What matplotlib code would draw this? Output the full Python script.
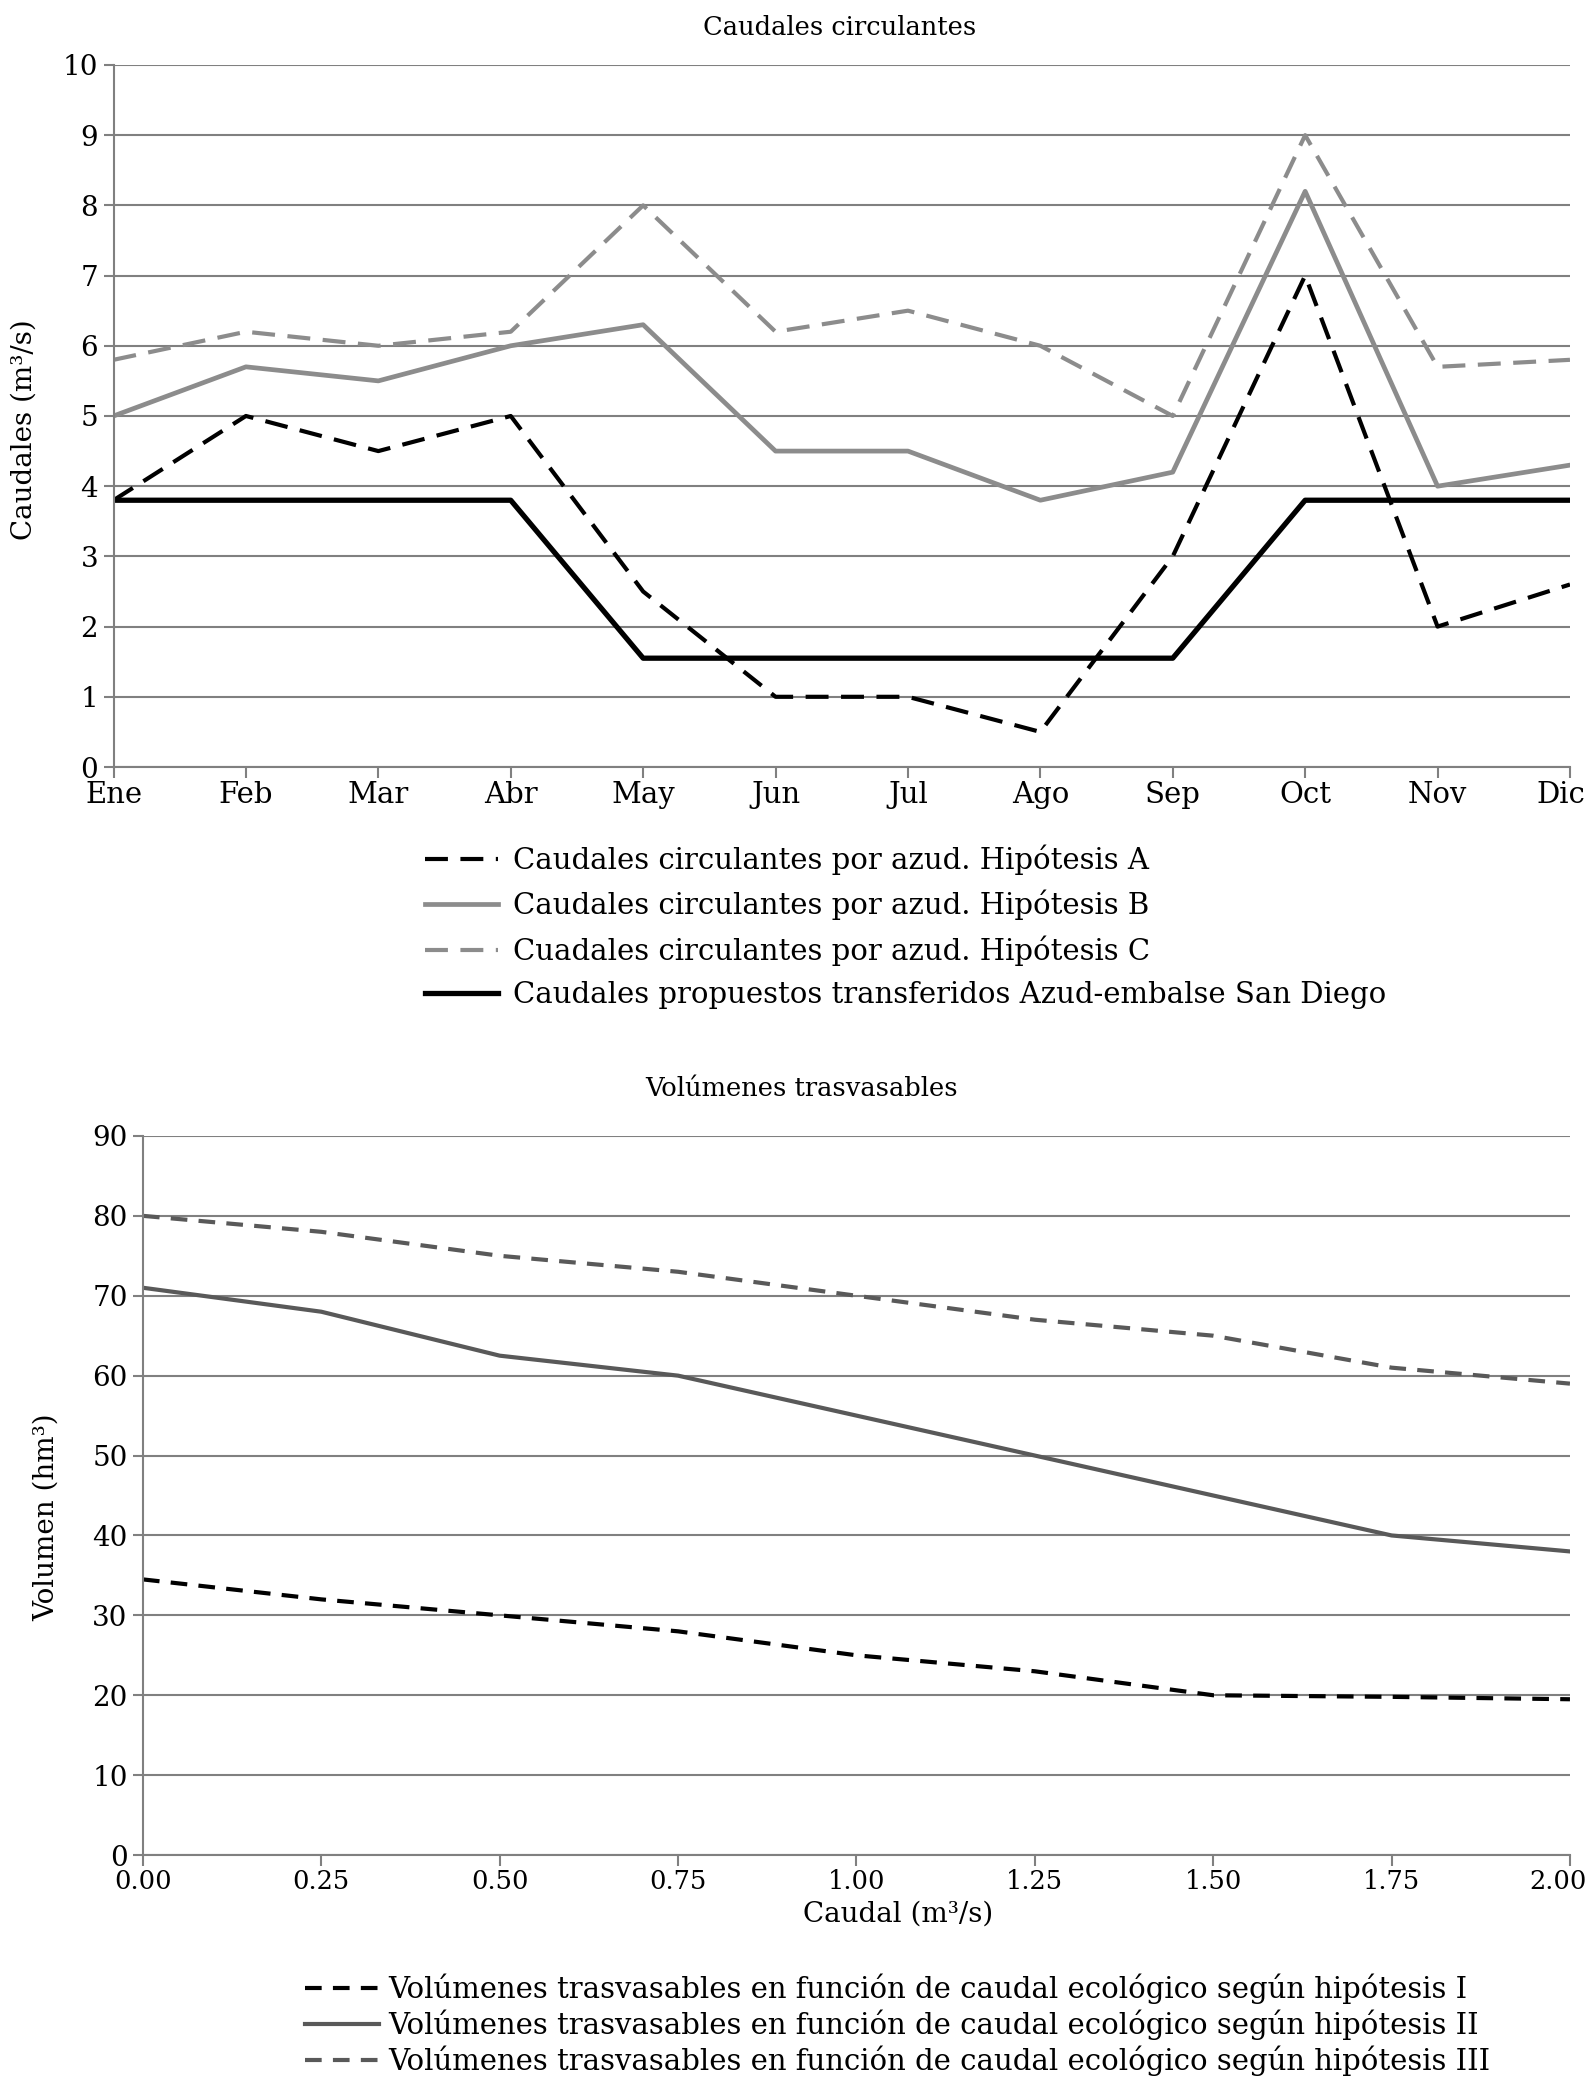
import matplotlib.pyplot as plt
from matplotlib.transforms import ScaledTranslation

plt.rcParams['font.family'] = 'DejaVu Serif'

meses = ['Ene', 'Feb', 'Mar', 'Abr', 'May', 'Jun', 'Jul', 'Ago', 'Sep', 'Oct', 'Nov', 'Dic']
hip_a = [3.8, 5.0, 4.5, 5.0, 2.5, 1.0, 1.0, 0.5, 3.0, 7.0, 2.0, 2.6]
hip_b = [5.0, 5.7, 5.5, 6.0, 6.3, 4.5, 4.5, 3.8, 4.2, 8.2, 4.0, 4.3]
hip_c = [5.8, 6.2, 6.0, 6.2, 8.0, 6.2, 6.5, 6.0, 5.0, 9.0, 5.7, 5.8]
propuestos = [3.8, 3.8, 3.8, 3.8, 1.55, 1.55, 1.55, 1.55, 1.55, 3.8, 3.8, 3.8]

caudal = [0.0, 0.25, 0.5, 0.75, 1.0, 1.25, 1.5, 1.75, 2.0]
vol_i = [34.5, 32.0, 30.0, 28.0, 25.0, 23.0, 20.0, 19.8, 19.5]
vol_ii = [71.0, 68.0, 62.5, 60.0, 55.0, 50.0, 45.0, 40.0, 38.0]
vol_iii = [80.0, 78.0, 75.0, 73.0, 70.0, 67.0, 65.0, 61.0, 59.0]

grid_col = '#808080'
gris = '#8c8c8c'
gris_osc = '#595959'

fig = plt.figure(figsize=(15.9, 20.82), dpi=100)


def estilo(ax, xsize):
    ax.yaxis.grid(True, color=grid_col, linewidth=1.5)
    ax.set_axisbelow(True)
    for s in ['top', 'right']:
        ax.spines[s].set_visible(False)
    for s in ['left', 'bottom']:
        ax.spines[s].set_color(grid_col)
        ax.spines[s].set_linewidth(1.5)
    ax.tick_params(axis='y', length=7, width=1.5, color=grid_col, labelsize=20, pad=4)
    ax.tick_params(axis='x', length=8, width=1.5, color=grid_col, labelsize=xsize, pad=2)


def ultima_dentro(ax, dx):
    # el ultimo rotulo del eje x queda pegado al borde, como en el original
    lbl = ax.xaxis.get_major_ticks()[-1].label1
    lbl.set_horizontalalignment('right')
    lbl.set_transform(lbl.get_transform() + ScaledTranslation(dx / 72, 0, fig.dpi_scale_trans))


# grafico superior
ax1 = fig.add_axes([0.0714, 0.6316, 0.916, 0.3372])
x = list(range(len(meses)))
ax1.plot(x, hip_a, color='black', linewidth=3, dashes=(5.5, 3), label='Caudales circulantes por azud. Hipótesis A')
ax1.plot(x, hip_b, color=gris, linewidth=3.4, label='Caudales circulantes por azud. Hipótesis B')
ax1.plot(x, hip_c, color=gris, linewidth=3, dashes=(5.5, 3), label='Cuadales circulantes por azud. Hipótesis C')
ax1.plot(x, propuestos, color='black', linewidth=3.8, label='Caudales propuestos transferidos Azud-embalse San Diego')
ax1.set_xlim(0, 11)
ax1.set_ylim(0, 10)
ax1.set_yticks(range(0, 11))
ax1.set_xticks(x)
ax1.set_xticklabels(meses)
estilo(ax1, 21)
ultima_dentro(ax1, 11)
ax1.set_ylabel('Caudales (m³/s)', fontsize=20)
ax1.yaxis.set_label_coords(-0.052, 0.48)
fig.text(0.528, 0.987, 'Caudales circulantes', fontsize=18.5, ha='center', va='center')
fig.legend(handles=ax1.get_lines(), loc='upper left', bbox_to_anchor=(0.2673, 0.5945),
           frameon=False, fontsize=21, handlelength=2.5, handletextpad=0.5,
           labelspacing=0.52, borderpad=0, borderaxespad=0)

# grafico inferior
ax2 = fig.add_axes([0.0899, 0.1090, 0.8975, 0.3454])
ax2.plot(caudal, vol_i, color='black', linewidth=3, dashes=(4, 2.7),
         label='Volúmenes trasvasables en función de caudal ecológico según hipótesis I')
ax2.plot(caudal, vol_ii, color=gris_osc, linewidth=3,
         label='Volúmenes trasvasables en función de caudal ecológico según hipótesis II')
ax2.plot(caudal, vol_iii, color=gris_osc, linewidth=3, dashes=(4, 2.7),
         label='Volúmenes trasvasables en función de caudal ecológico según hipótesis III')
ax2.set_xlim(0, 2)
ax2.set_ylim(0, 90)
ax2.set_yticks(range(0, 91, 10))
ax2.set_xticks(caudal)
ax2.set_xticklabels(['%.2f' % c for c in caudal])
estilo(ax2, 18.5)
ultima_dentro(ax2, 12)
ax2.set_ylabel('Volumen (hm³)', fontsize=20)
ax2.yaxis.set_label_coords(-0.058, 0.47)
ax2.set_xlabel('Caudal (m³/s)', fontsize=20)
ax2.xaxis.set_label_coords(0.529, -0.063)
fig.text(0.504, 0.4774, 'Volúmenes trasvasables', fontsize=18.5, ha='center', va='center')
fig.legend(handles=ax2.get_lines(), loc='upper left', bbox_to_anchor=(0.1918, 0.0522),
           frameon=False, fontsize=21, handlelength=2.55, handletextpad=0.3,
           labelspacing=0.2, borderpad=0, borderaxespad=0)

fig.savefig('out.png', dpi=100)
